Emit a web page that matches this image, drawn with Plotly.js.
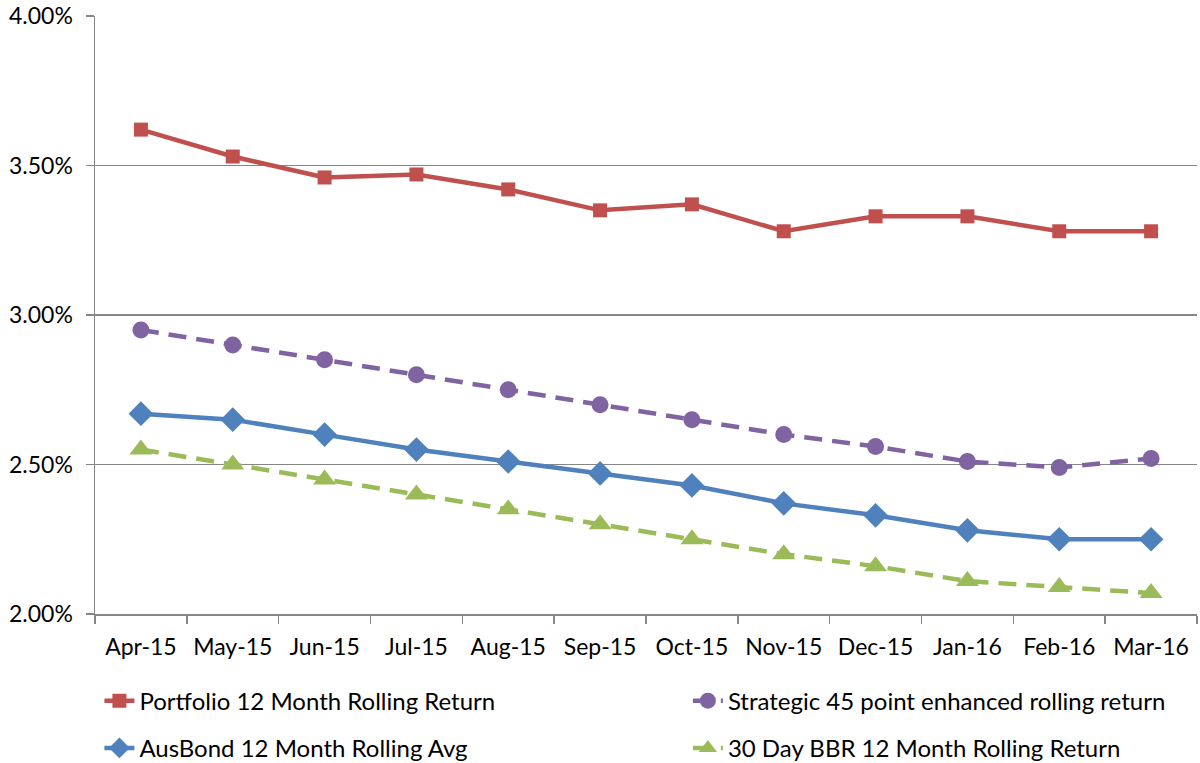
<!DOCTYPE html>
<html>
<head>
<meta charset="utf-8">
<script src="https://cdn.plot.ly/plotly-3.0.1.min.js"></script>
<style>
  html, body { margin: 0; padding: 0; background: #fff; }
  #chart { width: 1200px; height: 763px; }
</style>
</head>
<body>
<div id="chart"></div>
<script>
const months = ["Apr-15", "May-15", "Jun-15", "Jul-15", "Aug-15", "Sep-15",
                "Oct-15", "Nov-15", "Dec-15", "Jan-16", "Feb-16", "Mar-16"]

// values in percent
const portfolio = [3.62, 3.53, 3.46, 3.47, 3.42, 3.35, 3.37, 3.28, 3.33, 3.33, 3.28, 3.28]
const strategic = [2.95, 2.90, 2.85, 2.80, 2.75, 2.70, 2.65, 2.60, 2.56, 2.51, 2.49, 2.52]
const ausbond   = [2.67, 2.65, 2.60, 2.55, 2.51, 2.47, 2.43, 2.37, 2.33, 2.28, 2.25, 2.25]
const bbr       = [2.55, 2.50, 2.45, 2.40, 2.35, 2.30, 2.25, 2.20, 2.16, 2.11, 2.09, 2.07]

const yTicks = [2.0, 2.5, 3.0, 3.5, 4.0]
const yTickText = ["2.00%", "2.50%", "3.00%", "3.50%", "4.00%"]

const font = "Lato, 'Open Sans', sans-serif"
const fontSize = 23
const toFrac = arr => arr.map(v => v / 100)

const line = (name, y, color, symbol, size, dash, legend) => ({
  x: months, y: toFrac(y), name, type: "scatter", mode: "lines+markers",
  line: {color, width: 4.5, dash: dash || "solid"},
  marker: {color, symbol, size},
  legend
})

const data = [
  line("Portfolio 12 Month Rolling Return", portfolio, "#C0504D", "square", 14, null, "legend"),
  line("Strategic 45 point enhanced rolling return", strategic, "#8064A2", "circle", 17, "18px,10px", "legend2"),
  line("AusBond 12 Month Rolling Avg", ausbond, "#4F81BD", "diamond", 19, null, "legend3"),
  line("30 Day BBR 12 Month Rolling Return", bbr, "#9BBB59", "triangle-up", 20, "18px,10px", "legend4")
]

// one legend per entry so the 2x2 grid sits where the reference has it
const legendAt = (x, y) => ({
  orientation: "h", x, y, xanchor: "left", yanchor: "top",
  font: {family: font, size: 24, color: "#000"}, bgcolor: "rgba(0,0,0,0)"
})

const layout = {
  width: 1200, height: 763,
  margin: {l: 95, r: 3, t: 16, b: 149, autoexpand: false},
  paper_bgcolor: "#fff", plot_bgcolor: "#fff",
  font: {family: font, size: fontSize, color: "#000"},
  showlegend: true,
  xaxis: {
    type: "category", tickson: "boundaries", tickangle: 0,
    ticks: "outside", ticklen: 8, tickcolor: "#868686", tickwidth: 1.5,
    showgrid: false, showline: true, linecolor: "#868686", linewidth: 1.5,
    tickfont: {family: font, size: fontSize, color: "#000"},
    ticklabelstandoff: 12,
    range: [-0.5, 11.5]
  },
  yaxis: {
    range: [0.02, 0.04], tickvals: toFrac(yTicks), ticktext: yTickText,
    ticks: "outside", ticklen: 8, tickcolor: "#868686", tickwidth: 1.5,
    showgrid: true, gridcolor: "#868686", gridwidth: 1.5,
    showline: true, linecolor: "#868686", linewidth: 1.5,
    zeroline: false, ticklabelstandoff: 8,
    tickfont: {family: font, size: fontSize, color: "#000"}
  },
  legend: legendAt(0.004, -0.108),
  legend2: legendAt(0.538, -0.108),
  legend3: legendAt(0.004, -0.187),
  legend4: legendAt(0.538, -0.187)
}

Plotly.newPlot("chart", data, layout, {displayModeBar: false, staticPlot: true})
</script>
</body>
</html>
